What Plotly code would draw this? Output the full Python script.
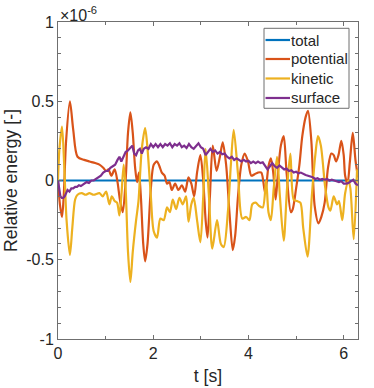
import plotly.graph_objects as go

# values in units of 1e-6 (relative energy)
t_total = [0.0, 6.3]
total = [0.0, 0.0]

t_pot = [0.00, 0.04, 0.084, 0.12, 0.17, 0.25, 0.32, 0.41, 0.55, 0.66, 0.78, 0.87, 0.95, 1.01, 1.06,
         1.12, 1.19, 1.25, 1.30, 1.36, 1.42, 1.47, 1.52, 1.57, 1.62, 1.66, 1.70, 1.74, 1.79, 1.83,
         1.88, 1.95, 2.01, 2.08, 2.13, 2.18, 2.24, 2.29, 2.34, 2.39, 2.46, 2.53, 2.60, 2.67, 2.74,
         2.80, 2.86, 2.92, 2.99, 3.05, 3.10, 3.14, 3.19, 3.25, 3.33, 3.40, 3.46, 3.53, 3.60, 3.67,
         3.72, 3.78, 3.85, 3.92, 3.99, 4.06, 4.13, 4.20, 4.27, 4.35, 4.42, 4.47, 4.52, 4.57, 4.62,
         4.68, 4.74, 4.80, 4.89, 4.93, 5.00, 5.07, 5.13, 5.20, 5.25, 5.32, 5.39, 5.47, 5.53, 5.60,
         5.67, 5.74, 5.79, 5.84, 5.89, 5.95, 6.00, 6.03, 6.08, 6.13, 6.19, 6.25, 6.30]
potential = [0.00, -0.15, -0.23, -0.10, 0.25, 0.50, 0.32, 0.15, 0.13, 0.12, 0.11, 0.10, 0.08, 0.06, 0.07,
             0.03, 0.07, -0.01, -0.12, -0.20, 0.00, 0.30, 0.43, 0.30, 0.08, -0.01, 0.05, -0.10, -0.40, -0.51,
             -0.40, -0.05, 0.10, 0.12, 0.09, 0.05, 0.03, -0.02, -0.01, -0.06, -0.02, -0.06, -0.03, -0.07, 0.02,
             -0.02, -0.10, 0.05, 0.16, 0.00, -0.25, -0.36, -0.10, 0.22, 0.06, 0.15, 0.24, 0.10, -0.20, -0.44,
             -0.35, -0.10, 0.10, 0.17, 0.12, 0.03, 0.04, 0.05, 0.05, -0.08, 0.09, 0.14, 0.05, -0.12, 0.05,
             0.22, 0.28, 0.05, -0.20, -0.18, -0.05, 0.10, 0.28, 0.40, 0.44, 0.25, -0.16, -0.27, -0.23, -0.14,
             0.08, 0.17, 0.16, 0.12, 0.16, 0.25, 0.16, 0.03, -0.02, 0.12, 0.30, 0.12, 0.02]

t_kin = [0.00, 0.03, 0.084, 0.13, 0.18, 0.25, 0.30, 0.36, 0.41, 0.50, 0.58, 0.66, 0.75, 0.87, 0.94,
         1.01, 1.08, 1.13, 1.19, 1.24, 1.29, 1.33, 1.38, 1.42, 1.47, 1.52, 1.57, 1.64, 1.69, 1.76,
         1.83, 1.88, 1.95, 2.01, 2.08, 2.15, 2.22, 2.29, 2.35, 2.41, 2.48, 2.55, 2.62, 2.69, 2.74,
         2.80, 2.85, 2.92, 2.99, 3.05, 3.10, 3.17, 3.24, 3.34, 3.42, 3.48, 3.57, 3.63, 3.69, 3.78,
         3.87, 3.95, 4.02, 4.08, 4.15, 4.22, 4.30, 4.37, 4.42, 4.47, 4.53, 4.60, 4.66, 4.74, 4.81,
         4.88, 4.95, 5.02, 5.09, 5.15, 5.24, 5.33, 5.40, 5.46, 5.52, 5.61, 5.68, 5.72, 5.79, 5.86,
         5.90, 5.97, 6.03, 6.10, 6.14, 6.21, 6.28]
kinetic = [0.00, 0.20, 0.34, 0.10, -0.25, -0.47, -0.30, -0.12, -0.09, -0.08, -0.09, -0.08, -0.09, -0.08, -0.10,
           -0.07, -0.15, -0.10, -0.13, -0.14, -0.22, -0.10, 0.10, -0.05, -0.45, -0.64, -0.45, -0.25, -0.13, 0.20,
           0.33, 0.20, -0.10, -0.32, -0.36, -0.24, -0.25, -0.17, -0.20, -0.12, -0.18, -0.11, -0.15, -0.10, -0.26,
           -0.15, -0.11, -0.25, -0.39, -0.10, 0.20, -0.10, -0.43, -0.25, -0.40, -0.42, -0.19, 0.10, 0.32, 0.04,
           -0.24, -0.23, -0.25, -0.15, -0.14, -0.16, -0.17, 0.00, -0.20, -0.25, -0.05, 0.15, -0.10, -0.38, -0.05,
           0.17, -0.12, -0.13, -0.14, -0.30, -0.48, -0.10, 0.15, 0.28, 0.22, -0.04, -0.17, -0.19, -0.10, -0.15,
           -0.13, -0.25, -0.08, 0.00, -0.05, -0.37, 0.07]

t_surf = [0.00, 0.02, 0.05, 0.08, 0.11, 0.14, 0.17, 0.20, 0.24, 0.28, 0.32, 0.36, 0.40, 0.44, 0.48,
          0.52, 0.56, 0.60, 0.65, 0.70, 0.75, 0.80, 0.85, 0.90, 0.95, 1.00, 1.05, 1.10, 1.15, 1.20,
          1.25, 1.29, 1.33, 1.38, 1.42, 1.47, 1.52, 1.56, 1.60, 1.64, 1.68, 1.72, 1.76, 1.80, 1.85,
          1.90, 1.95, 2.00, 2.05, 2.10, 2.15, 2.20, 2.25, 2.30, 2.35, 2.40, 2.45, 2.50, 2.55, 2.60,
          2.65, 2.70, 2.75, 2.80, 2.85, 2.90, 2.95, 3.00, 3.05, 3.10, 3.15, 3.20, 3.25, 3.30, 3.35,
          3.40, 3.45, 3.50, 3.55, 3.60, 3.65, 3.70, 3.75, 3.80, 3.85, 3.90, 3.95, 4.00, 4.05, 4.10,
          4.15, 4.20, 4.25, 4.30, 4.35, 4.40, 4.45, 4.50, 4.55, 4.60, 4.65, 4.70, 4.75, 4.80, 4.85,
          4.90, 4.95, 5.00, 5.05, 5.10, 5.15, 5.20, 5.25, 5.30, 5.35, 5.40, 5.45, 5.50, 5.55, 5.60,
          5.65, 5.70, 5.75, 5.80, 5.85, 5.90, 5.95, 6.00, 6.05, 6.10, 6.15, 6.20, 6.25, 6.30]
surface = [0.00, -0.05, -0.10, -0.11, -0.11, -0.10, -0.08, -0.06, -0.07, -0.05, -0.05, -0.04, -0.04, -0.03, -0.035,
           -0.025, -0.02, -0.01, -0.015, 0.00, 0.00, 0.01, 0.025, 0.03, 0.05, 0.06, 0.06, 0.08, 0.09, 0.10,
           0.13, 0.15, 0.12, 0.15, 0.18, 0.19, 0.21, 0.22, 0.17, 0.16, 0.19, 0.20, 0.17, 0.20, 0.21,
           0.20, 0.23, 0.21, 0.23, 0.21, 0.23, 0.21, 0.23, 0.22, 0.235, 0.21, 0.23, 0.22, 0.235, 0.21,
           0.22, 0.205, 0.23, 0.21, 0.20, 0.22, 0.235, 0.21, 0.20, 0.16, 0.18, 0.20, 0.18, 0.19, 0.17,
           0.18, 0.165, 0.17, 0.15, 0.14, 0.15, 0.13, 0.14, 0.13, 0.12, 0.13, 0.12, 0.125, 0.11, 0.12,
           0.11, 0.12, 0.11, 0.115, 0.09, 0.07, 0.09, 0.11, 0.09, 0.08, 0.095, 0.08, 0.07, 0.075, 0.06,
           0.065, 0.05, 0.055, 0.045, 0.05, 0.04, 0.035, 0.03, 0.025, 0.02, 0.01, 0.015, 0.005, 0.01, 0.005,
           0.01, 0.00, 0.005, 0.00, -0.005, -0.01, -0.005, -0.02, -0.02, -0.015, -0.005, 0.005, -0.02, -0.03]

series_names = ["total", "potential", "kinetic", "surface"]
series_colors = ["#0072BD", "#D95319", "#EDB120", "#7E2F8E"]

x_ticks = [0, 2, 4, 6]
x_ticktext = ["0", "2", "4", "6"]
y_ticks = [-1, -0.5, 0, 0.5, 1]
y_ticktext = ["-1", "-0.5", "0", "0.5", "1"]

FONT = "Liberation Sans, Arial, sans-serif"
AX = "#6f6f6f"
TXT = "#262626"
LW = 2.2

fig = go.Figure()
data = [(t_total, total, "linear"), (t_pot, potential, "spline"),
        (t_kin, kinetic, "spline"), (t_surf, surface, "linear")]
for (xs, ys, shape), name, color in zip(data, series_names, series_colors):
    line = dict(color=color, width=LW, shape=shape)
    if shape == "spline":
        line["smoothing"] = 0.8
    fig.add_trace(go.Scatter(x=xs, y=ys, mode="lines", name=name, line=line, showlegend=False))

axis_common = dict(showline=True, linecolor=AX, linewidth=1, mirror="allticks",
                   ticks="inside", tickcolor=AX, ticklen=4, showgrid=False, zeroline=False,
                   automargin=False,
                   tickfont=dict(family=FONT, size=16, color=TXT))

fig.update_layout(
    width=374, height=388,
    margin=dict(l=58, r=16, t=22, b=49),
    paper_bgcolor="white", plot_bgcolor="white",
    font=dict(family=FONT, color=TXT),
    xaxis=dict(range=[0, 6.3], tickvals=x_ticks, ticktext=x_ticktext,
               minor=dict(dtick=1, tick0=0, ticks="inside", ticklen=3, tickcolor=AX),
               title=dict(text="t [s]", font=dict(family=FONT, size=17.6, color=TXT), standoff=8),
               **axis_common),
    yaxis=dict(range=[-1, 1], tickvals=y_ticks, ticktext=y_ticktext,
               minor=dict(dtick=0.1, tick0=0, ticks="inside", ticklen=3, tickcolor=AX),
               title=dict(text="Relative energy [-]", font=dict(family=FONT, size=17.6, color=TXT), standoff=4),
               **axis_common),
    showlegend=False,
)

# legend box (MATLAB-style, compact)
LEG_X0, LEG_X1, LEG_Y0, LEG_Y1 = 0.6867, 0.97, 0.7278, 0.9801
fig.add_shape(type="rect", xref="paper", yref="paper", x0=LEG_X0, x1=LEG_X1, y0=LEG_Y0, y1=LEG_Y1,
              line=dict(color=AX, width=1), fillcolor="white", layer="above")
row_y = [0.9432, 0.8833, 0.8218, 0.7603]
for name, color, yy in zip(series_names, series_colors, row_y):
    fig.add_shape(type="line", xref="paper", yref="paper", x0=0.6917, x1=0.7733, y0=yy, y1=yy,
                  line=dict(color=color, width=LW), layer="above")
    fig.add_annotation(text=name, xref="paper", yref="paper", x=0.7733, y=yy,
                       xanchor="left", yanchor="middle", showarrow=False, borderpad=0,
                       font=dict(family=FONT, size=15, color=TXT))

fig.add_annotation(text="×10<sup>-6</sup>", xref="paper", yref="paper", x=0, y=1.0,
                   xanchor="left", yanchor="bottom", showarrow=False,
                   font=dict(family=FONT, size=16, color=TXT), yshift=-4)

fig.write_html("out.html", post_script="document.body.style.margin='0';",
               config={"displayModeBar": False})
